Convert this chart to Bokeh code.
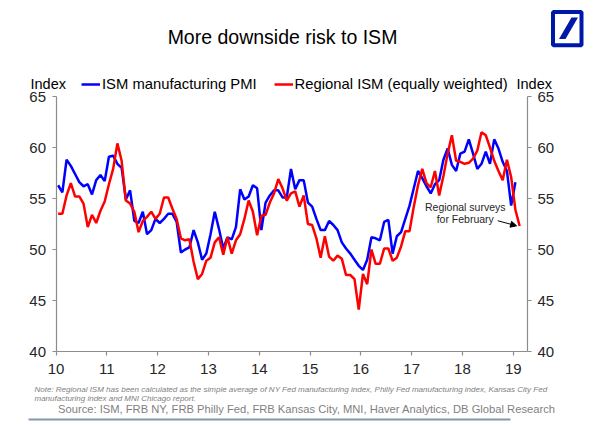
from bokeh.plotting import figure
from bokeh.models import (LinearAxis, FixedTicker, Label, Arrow, NormalHead, Range1d,
                          Legend, LegendItem)
from bokeh.embed import file_html
from bokeh.resources import INLINE

# ---------------- data ----------------
start_year = 2010
year_ticks = [2010, 2011, 2012, 2013, 2014, 2015, 2016, 2017, 2018, 2019]
year_labels = ["10", "11", "12", "13", "14", "15", "16", "17", "18", "19"]
y_ticks = [40, 45, 50, 55, 60, 65]
series_names = ["ISM manufacturing PMI", "Regional ISM (equally weighted)"]

# ISM manufacturing PMI, monthly Jan-2010 .. Jan-2019
ism_pmi = [
    56.3, 55.6, 58.8, 58.2, 57.4, 56.6, 56.2, 56.4, 55.4, 56.8, 57.3, 56.7,
    59.1, 59.2, 58.4, 58.0, 54.9, 55.8, 52.8, 52.6, 53.7, 51.5, 51.9, 53.0,
    52.6, 53.0, 53.5, 53.5, 52.7, 49.7, 50.0, 50.2, 51.9, 50.7, 49.0, 49.6,
    51.5, 53.7, 52.0, 50.1, 51.2, 51.0, 52.2, 55.9, 54.9, 55.2, 56.3, 56.0,
    51.9, 54.6, 55.3, 55.8, 55.8, 55.1, 55.1, 57.9, 55.9, 56.8, 56.8, 54.6,
    54.2, 53.0, 51.9, 51.9, 52.8, 52.4, 51.9, 50.7, 50.1, 49.6, 49.0, 48.4,
    48.0, 49.0, 51.2, 51.1, 50.9, 52.7, 52.9, 49.6, 51.3, 51.7, 53.0, 54.3,
    56.0, 57.7, 57.0, 56.2, 55.5, 56.4, 56.8, 58.8, 59.9, 58.3, 57.7, 59.4,
    59.6, 60.8, 59.4, 57.9, 58.4, 59.6, 58.4, 60.8, 59.9, 58.6, 57.7, 54.3,
    56.6,
]

# Regional ISM (equally weighted), monthly Jan-2010 .. Feb-2019
regional_ism = [
    53.5, 53.5, 55.3, 56.5, 55.2, 55.2, 54.5, 52.2, 53.4, 52.6, 53.8, 54.7,
    56.4, 57.9, 60.4, 58.7, 54.8, 54.5, 53.7, 51.7, 52.8, 53.2, 53.7, 53.0,
    53.5, 55.1, 55.1, 54.0, 53.0, 51.1, 50.9, 51.0, 48.8, 47.1, 47.6, 48.9,
    49.2, 50.7, 51.2, 49.5, 51.2, 49.6, 50.9, 51.5, 53.0, 54.8, 53.7, 51.4,
    53.3, 53.4, 54.6, 55.5, 56.9, 56.0, 54.8, 55.5, 55.7, 54.2, 55.3, 52.5,
    52.4, 51.1, 49.2, 51.3, 49.3, 48.9, 49.4, 49.1, 47.5, 47.5, 47.1, 44.1,
    47.6, 46.6, 50.0, 48.6, 48.6, 50.1, 50.1, 48.9, 49.2, 50.3, 51.8, 51.8,
    54.2, 56.3, 57.9, 56.5, 56.1, 57.7, 55.3, 57.2, 59.4, 61.2, 58.7, 58.6,
    58.4, 58.5, 58.9, 59.7, 61.5, 61.2, 60.0, 58.7, 57.7, 56.8, 58.8, 57.1,
    53.9, 52.3,
]

x_ism = [start_year + (i + 0.5) / 12 for i in range(len(ism_pmi))]
x_reg = [start_year + (i + 0.5) / 12 for i in range(len(regional_ism))]

FONT = "Liberation Sans"
AXIS_COLOR = "#8c8c8c"
TEXT_COLOR = "#262626"
BLUE = "#0000ff"
RED = "#ff0000"
DB_BLUE = "#0018a8"
W, H = 598, 425

# ---- geometry: the frame covers the whole canvas, axes are pinned ----
X0, X1 = 2010.0, 2019.28          # extent of the x axis
Y0, Y1 = 40.0, 65.0               # extent of the y axes
AX_LEFT, AX_RIGHT = 55.5, 527.0   # pixel columns of the y axes
AX_TOP, AX_BOTTOM = 96.0, 351.0   # pixel rows of 65 and 40
sx = (AX_RIGHT - AX_LEFT) / (X1 - X0)
sy = (AX_BOTTOM - AX_TOP) / (Y1 - Y0)
x_range = Range1d(X0 - AX_LEFT / sx, X0 + (W - AX_LEFT) / sx)
y_range = Range1d(Y0 - (H - AX_BOTTOM) / sy, Y1 + AX_TOP / sy)


def px(x):  # canvas pixel column -> data x (for decorations only)
    return X0 + (x - AX_LEFT) / sx


def py(y):  # canvas pixel row -> data y (for decorations only)
    return Y1 - (y - AX_TOP) / sy


p = figure(width=W, height=H, output_backend="svg", toolbar_location=None,
           x_range=x_range, y_range=y_range,
           min_border=0, min_border_left=0, min_border_right=0,
           min_border_top=0, min_border_bottom=0, outline_line_color=None)
p.xgrid.visible = False
p.ygrid.visible = False


def style_axis(ax):
    ax.axis_line_color = AXIS_COLOR
    ax.axis_line_width = 1.2
    ax.major_tick_line_color = AXIS_COLOR
    ax.major_tick_line_width = 1.2
    ax.major_tick_in = 0
    ax.major_tick_out = 4
    ax.minor_tick_in = 0
    ax.minor_tick_out = 0
    ax.major_label_text_font = FONT
    ax.major_label_text_font_size = "15px"
    ax.major_label_text_color = TEXT_COLOR
    ax.major_label_standoff = 6


yl = p.yaxis[0]
yl.ticker = FixedTicker(ticks=y_ticks)
yl.fixed_location = X0
yl.bounds = (Y0, Y1)
style_axis(yl)

yr = LinearAxis(ticker=FixedTicker(ticks=y_ticks), fixed_location=X1, bounds=(Y0, Y1))
style_axis(yr)
p.add_layout(yr, "right")

xa = p.xaxis[0]
xa.ticker = FixedTicker(ticks=year_ticks)
xa.major_label_overrides = {t: l for t, l in zip(year_ticks, year_labels)}
xa.fixed_location = Y0
xa.bounds = (X0, X1)
style_axis(xa)
xa.major_label_standoff = 8

r_ism = p.line(x_ism, ism_pmi, line_color=BLUE, line_width=2.5)
r_reg = p.line(x_reg, regional_ism, line_color=RED, line_width=2.5)

legend = Legend(items=[LegendItem(label=series_names[0], renderers=[r_ism]),
                       LegendItem(label=series_names[1], renderers=[r_reg])],
                orientation="horizontal", location=(81, H - 83.5 - 8),
                border_line_color=None, background_fill_alpha=0,
                label_text_font=FONT, label_text_font_size="14.8px",
                label_text_color="#000000", glyph_width=19, glyph_height=16,
                label_height=16, label_standoff=2, spacing=17, padding=0, margin=0)
p.add_layout(legend)


def put_label(x, y, text, size, align="left", color=TEXT_COLOR, style="normal"):
    p.add_layout(Label(x=px(x), y=py(y), text=text, text_font=FONT, text_font_size=size,
                       text_color=color, text_align=align, text_baseline="middle",
                       text_font_style=style))


put_label(282, 36, "More downside risk to ISM", "19.5px", align="center", color="#000000")
put_label(30, 83.5, "Index", "14.5px", color="#000000")
put_label(516, 83.5, "Index", "14.5px", color="#000000")
put_label(34, 389, "Note: Regional ISM has been calculated as the simple average of NY Fed "
          "manufacturing index, Philly Fed manufacturing index, Kansas City Fed",
          "8px", color="#808080", style="italic")
put_label(34, 397.5, "manufacturing index and MNI Chicago report.", "8px",
          color="#808080", style="italic")
put_label(57.5, 408, "Source: ISM, FRB NY, FRB Philly Fed, FRB Kansas City, MNI, "
          "Haver Analytics, DB Global Research", "11.2px", color="#7f7f7f")

# footer rule
p.line([px(28), px(510)], [py(419), py(419)], line_color="#8497b0", line_width=2)

# logo
p.quad(left=[px(552.5)], right=[px(581)], top=[py(11.5)], bottom=[py(44.7)],
       fill_color="white", line_color=DB_BLUE, line_width=4)
p.patch([px(558.5), px(565), px(577.5), px(571)], [py(38.5), py(38.5), py(17), py(17)],
        fill_color=DB_BLUE, line_color=None)

# annotation for February regional surveys
last_x = x_reg[-1]
last_y = regional_ism[-1]
p.add_layout(Label(x=last_x - 1.07, y=last_y + 1.9, text="Regional surveys", text_font=FONT,
                   text_font_size="10.5px", text_color=TEXT_COLOR, text_align="center",
                   text_baseline="middle"))
p.add_layout(Label(x=last_x - 1.07, y=last_y + 0.72, text="for February", text_font=FONT,
                   text_font_size="10.5px", text_color=TEXT_COLOR, text_align="center",
                   text_baseline="middle"))
p.add_layout(Arrow(end=NormalHead(size=6, fill_color="black", line_color="black"),
                   x_start=last_x - 0.43, y_start=last_y + 0.52,
                   x_end=last_x - 0.06, y_end=last_y + 0.02,
                   line_color="black", line_width=1))

open("out.html", "w").write(file_html(p, INLINE))
